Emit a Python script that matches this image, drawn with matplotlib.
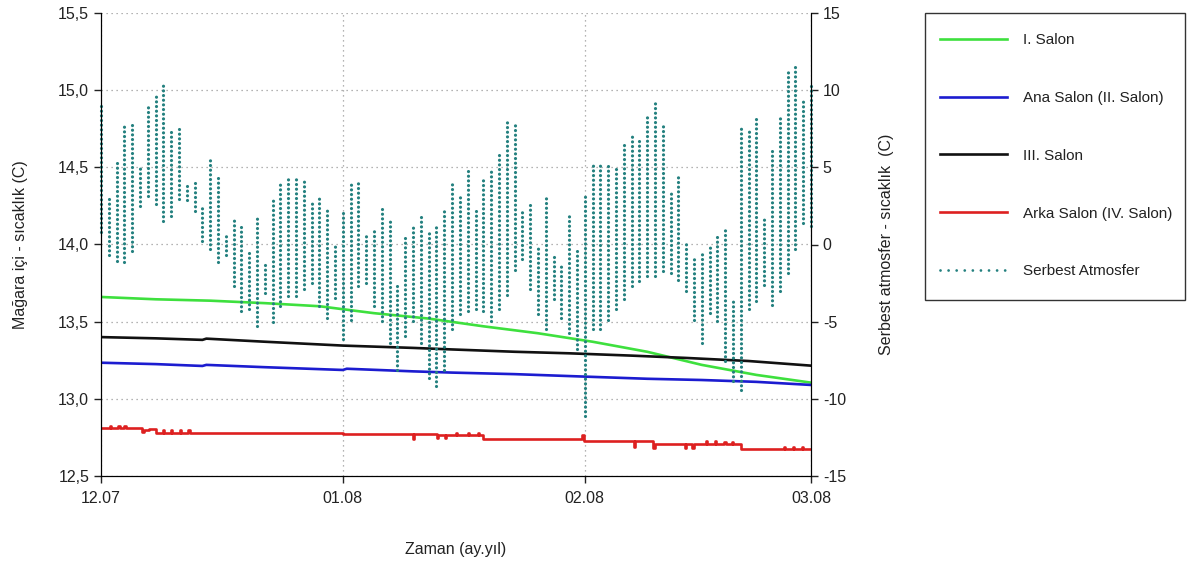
import numpy as np
import matplotlib
matplotlib.use("Agg")
import matplotlib.pyplot as plt
import matplotlib.dates as mdates
from matplotlib.lines import Line2D
from matplotlib.patches import Rectangle
from datetime import datetime, timedelta

plt.rcParams['font.family'] = ['Liberation Sans', 'DejaVu Sans']

start = datetime(2007, 12, 1)

# ---- Serbest Atmosfer: daily max / min (right axis, C) ----
atm_max = [8.96, 3.13, 5.57, 7.65, 7.9, 4.93, 9.0, 9.72, 10.5, 7.35, 7.56, 3.78, 4.0, 2.6, 5.7, 4.43,
           0.65, 1.73, 1.3, -0.32, 1.73, -1.15, 3.03, 4.04, 4.32, 4.32, 4.2, 2.8, 3.13, 2.38, 0.0,
           2.16, 4.1, 4.1, 0.58, 0.86, 2.27, 1.73, -2.7, 0.54, 1.3, 1.88, 0.86, 1.4, 2.38, 4.1,
           3.13, 4.97, 2.3, 4.32, 4.97, 6.05, 8.0, 7.78, 2.3, 2.6, -0.22, 3.3, -0.71, -1.23, 2.05,
           -0.32, 3.13, 5.2, 5.34, 5.2, 5.12, 6.7, 7.24, 6.76, 8.28, 9.4, 7.67, 3.35, 4.47, 0.06,
           -0.76, -0.43, 0.0, 0.54, 0.97, -3.67, 7.56, 7.39, 8.3, 1.84, 6.27, 8.47, 11.2, 11.6, 9.3, 10.5]
atm_min = [0.84, -0.65, -1.08, -1.15, -0.43, 2.48, 3.13, 2.6, 1.51, 1.84, 2.92, 2.9, 2.16, 0.2, -0.32, -1.15,
           -0.65, -2.7, -4.3, -4.2, -5.3, -3.13, -5.03, -4.0, -3.35, -3.35, -2.9, -2.5, -4.0, -4.75, -3.45,
           -6.15, -4.86, -2.7, -2.5, -4.0, -4.97, -6.37, -8.1, -5.94, -4.97, -6.37, -8.64, -9.14, -8.1, -5.5,
           -4.5, -4.3, -4.2, -4.3, -4.97, -4.2, -3.24, -1.62, -0.97, -2.9, -4.5, -5.5, -3.56, -4.75, -5.72,
           -6.8, -11.1, -5.5, -5.47, -4.86, -4.2, -3.56, -2.7, -2.38, -2.05, -2.05, -1.73, -1.84, -2.27, -3.03,
           -4.86, -6.37, -4.43, -4.97, -7.56, -8.86, -9.4, -4.2, -3.67, -2.6, -3.9, -3.03, -1.84, -0.32, 1.4, 1.19]

# ---- Cave halls (left axis, C) ----
green_days = [0, 7, 14, 21, 28, 35, 42, 49, 56, 63, 70, 77, 84, 91]
green_vals = [13.66, 13.645, 13.636, 13.62, 13.60, 13.555, 13.52, 13.47, 13.425, 13.37, 13.305, 13.22, 13.155, 13.105]

black_days = [0, 7, 13, 13.5, 21, 31, 40, 45, 53, 60, 68, 75, 83, 91]
black_vals = [13.40, 13.392, 13.382, 13.39, 13.37, 13.345, 13.33, 13.32, 13.305, 13.295, 13.28, 13.265, 13.245, 13.215]

blue_days = [0, 7, 13, 13.5, 21, 31, 31.5, 40, 45, 53, 62, 70, 77, 84, 91]
blue_vals = [13.234, 13.225, 13.213, 13.22, 13.205, 13.187, 13.195, 13.178, 13.17, 13.16, 13.144, 13.13, 13.122, 13.11, 13.09]

red_days = [0, 1.1, 1.3, 2.2, 2.4, 3.0, 3.2, 5.2, 5.5, 6.2, 7.1, 7.9, 8.05, 9.0, 9.15, 10.1, 10.25,
            11.2, 11.35, 31, 40.0, 40.15, 43.1, 43.25, 44.1, 44.25, 45.5, 45.65, 47.0, 47.15, 48.3, 48.45,
            49.0, 61.7, 61.85, 68.3, 68.45, 70.8, 70.95, 74.8, 74.95, 75.8, 75.95, 77.5, 77.65, 78.7, 78.85,
            79.9, 80.05, 80.9, 81.05, 82.0, 87.5, 87.65, 88.7, 88.85, 89.8, 89.95, 91]
red_vals = [12.809, 12.822, 12.809, 12.822, 12.809, 12.824, 12.81, 12.787, 12.795, 12.802, 12.78, 12.80, 12.78,
            12.80, 12.78, 12.80, 12.78, 12.80, 12.78, 12.775, 12.74, 12.77, 12.745, 12.768, 12.745, 12.766,
            12.776, 12.766, 12.776, 12.766, 12.776, 12.766, 12.738, 12.766, 12.73, 12.69, 12.73, 12.68, 12.707,
            12.68, 12.707, 12.68, 12.707, 12.725, 12.707, 12.725, 12.707, 12.72, 12.707, 12.72, 12.707,
            12.673, 12.69, 12.675, 12.69, 12.675, 12.69, 12.675, 12.675]

labels = ["I. Salon", "Ana Salon (II. Salon)", "III. Salon", "Arka Salon (IV. Salon)", "Serbest Atmosfer"]
left_ticks = [12.5, 13.0, 13.5, 14.0, 14.5, 15.0, 15.5]
right_ticks = [-15, -10, -5, 0, 5, 10, 15]

C_GREEN, C_BLUE, C_BLACK, C_RED, C_TEAL = "#3ee03e", "#1c1cd0", "#111111", "#dd2020", "#23807f"


def to_dates(days):
    return [start + timedelta(days=float(d)) for d in days]


W, H = 1194, 561
fig = plt.figure(figsize=(W/100, H/100), dpi=100)
ax = fig.add_axes([101/W, 1-476/H, 710/W, 463/H])
ax2 = ax.twinx()

lw = 1.9
ax.plot(to_dates(green_days), green_vals, color=C_GREEN, lw=lw)
ax.plot(to_dates(blue_days), blue_vals, color=C_BLUE, lw=lw)
ax.plot(to_dates(black_days), black_vals, color=C_BLACK, lw=lw)
ax.plot(to_dates(red_days), red_vals, color=C_RED, lw=lw, drawstyle='steps-post')

# atmosphere: one dotted vertical run per day (min -> max)
xs, ys = [], []
for d, (lo, hi) in enumerate(zip(atm_min, atm_max)):
    t = mdates.date2num(start + timedelta(days=d))
    xs += [t, t, np.nan]
    ys += [lo, hi, np.nan]
ax2.plot(xs, ys, color=C_TEAL, lw=2.3, linestyle=(0, (0.01, 1.45)),
         dash_capstyle='round', clip_on=False)

ax.set_xlim(start, datetime(2008, 3, 1))
ax.set_ylim(12.5, 15.5)
ax2.set_ylim(-15, 15)

ax.xaxis.set_major_locator(mdates.MonthLocator())
ax.xaxis.set_major_formatter(mdates.DateFormatter('%m.%y'))
ax.set_yticks(left_ticks)
ax.set_yticklabels([f"{v:.1f}".replace('.', ',') for v in left_ticks])
ax2.set_yticks(right_ticks)
ax2.set_yticklabels([str(v) for v in right_ticks])

for a in (ax, ax2):
    a.spines['top'].set_visible(False)
    a.tick_params(labelsize=11.5, colors='#222222', length=5, width=1, direction='out')
ax.tick_params(axis='x', pad=6)

ax.grid(True, color='#9a9a9a', linestyle=(0, (1, 3)), lw=0.9)
ax.set_axisbelow(True)

ax.set_xlabel("Zaman (ay.yıl)", fontsize=11.5, color='#222222', labelpad=26)
ax.set_ylabel("Mağara içi - sıcaklık (C)", fontsize=11.5, color='#222222', labelpad=22)
ax2.set_ylabel("Serbest atmosfer - sıcaklık  (C)", fontsize=11.5, color='#222222', labelpad=24)

# legend box
fig.patches.append(Rectangle((925/W, 1-300/H), 260/W, 287/H, transform=fig.transFigure,
                             fill=False, edgecolor='#333333', lw=1.0))
handles = [Line2D([], [], color=C_GREEN, lw=lw),
           Line2D([], [], color=C_BLUE, lw=lw),
           Line2D([], [], color=C_BLACK, lw=lw),
           Line2D([], [], color=C_RED, lw=lw),
           Line2D([], [], color=C_TEAL, lw=2.0, linestyle=(0, (0.01, 2.9)), dash_capstyle='round')]
leg = fig.legend(handles, labels, loc='upper left',
                 bbox_to_anchor=(940/W, 1-33/H), frameon=False, fontsize=11,
                 handlelength=4.4, handletextpad=1.05, labelspacing=2.87, borderpad=0,
                 borderaxespad=0)
for t in leg.get_texts():
    t.set_color('#222222')

fig.savefig("out.png", dpi=100)
